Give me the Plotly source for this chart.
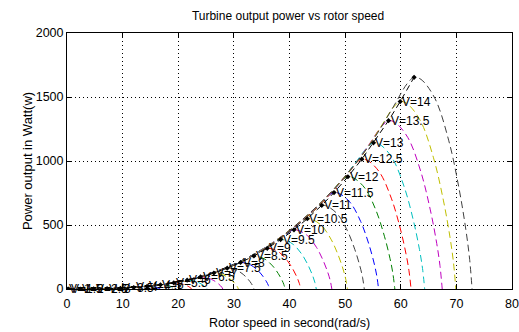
import plotly.graph_objects as go

# Wind speeds (m/s) for each power curve
wind_speeds = [1, 1.5, 2, 2.5, 3, 3.5, 4, 4.5, 5, 5.5, 6, 6.5, 7, 7.5, 8, 8.5,
               9, 9.5, 10, 10.5, 11, 11.5, 12, 12.5, 13, 13.5, 14, 14.5]
# Rotor speed (rad/s) at the maximum-power point of each curve
peak_speed = [0, 0.3, 2.4, 4.8, 7.2, 9.6, 12.0, 14.4, 16.8, 19.2, 21.6, 24.0,
              26.4, 28.8, 31.2, 33.6, 36.0, 38.4, 40.8, 43.2, 45.8, 48.0, 50.5,
              53.0, 55.1, 57.8, 59.9, 62.4]
# Maximum power (W) of each curve
peak_power = [0, 0, 0.09, 0.75, 2.5, 6.0, 11.8, 20.3, 32.3, 48.2, 68.6, 94.1,
              125, 163, 207, 258, 318, 386, 462, 549, 654, 753, 877, 1014,
              1142, 1315, 1464, 1654]
# Common curve shape, relative to the peak
shape_speed = [0, 0.2, 0.4, 0.55, 0.7, 0.8, 0.88, 0.94, 0.98, 1.0, 1.02,
               1.06, 1.1, 1.13, 1.15, 1.16, 1.167]
shape_power = [0, 0.008, 0.064, 0.17, 0.36, 0.53, 0.70, 0.86, 0.97, 1.0, 0.99,
               0.90, 0.70, 0.47, 0.27, 0.14, 0]
# Labels written next to the peak markers
peak_labels = ["V=1", "V=1.5", "V=2", "V=2.5", "V=3", "V=3.5", "V=4", "V=4.5",
               "V=5", "V=5.5", "V=6", "V=6.5", "V=7", "V=7.5", "V=8", "V=8.5",
               "V=9", "V=9.5", "V=10", "V=10.5", "V=11", "V=11.5", "V=12",
               "V=12.5", "V=13", "V=13.5", "V=14"]

colors = ["rgb(0,0,255)", "rgb(0,128,0)", "rgb(255,0,0)", "rgb(0,191,191)",
          "rgb(191,0,191)", "rgb(191,191,0)", "rgb(64,64,64)"]

FONT = "Liberation Sans, Arial, sans-serif"
fig = go.Figure()

for i, (ws, pw, pp) in enumerate(zip(wind_speeds, peak_speed, peak_power)):
    fig.add_trace(go.Scatter(
        x=[pw * s for s in shape_speed],
        y=[pp * s for s in shape_power],
        mode="lines",
        line=dict(color=colors[i % 7], width=1, dash="7px,4px", shape="spline"),
        showlegend=False, hoverinfo="skip"))

fig.add_trace(go.Scatter(
    x=peak_speed, y=peak_power, mode="lines+markers",
    line=dict(color="black", width=1, dash="6px,4px"),
    marker=dict(symbol="diamond", size=4, color="black"),
    showlegend=False))

for lbl, pw, pp in zip(peak_labels, peak_speed, peak_power):
    fig.add_annotation(x=pw, y=pp, text=lbl, showarrow=False,
                       xanchor="left", yanchor="middle", xshift=0,
                       font=dict(family=FONT, size=12, color="black"))

axis_common = dict(showline=True, linecolor="black", linewidth=1, mirror="ticks",
                   ticks="inside", ticklen=5, tickcolor="black",
                   showgrid=True, gridcolor="black", griddash="1px,3px", gridwidth=1,
                   zeroline=False, automargin=False,
                   tickfont=dict(family=FONT, size=12.5, color="black"))

fig.update_layout(
    width=519, height=332,
    margin=dict(l=67, r=7, t=33, b=43),
    paper_bgcolor="white", plot_bgcolor="white",
    title=dict(text="Turbine output power vs rotor speed", x=0.555, xanchor="center",
               y=0.952, yanchor="middle",
               font=dict(family=FONT, size=12, color="black")),
    xaxis=dict(range=[0, 80], tickvals=[0, 10, 20, 30, 40, 50, 60, 70, 80],
               ticklabelstandoff=3,
               title=dict(text="Rotor speed in second(rad/s)", standoff=8,
                          font=dict(family=FONT, size=12.5, color="black")),
               **axis_common),
    yaxis=dict(range=[0, 2000], tickvals=[0, 500, 1000, 1500, 2000],
               title=dict(text="Power output in Watt(w)", standoff=0,
                          font=dict(family=FONT, size=13, color="black")),
               **axis_common),
)

fig.write_html("out.html")
